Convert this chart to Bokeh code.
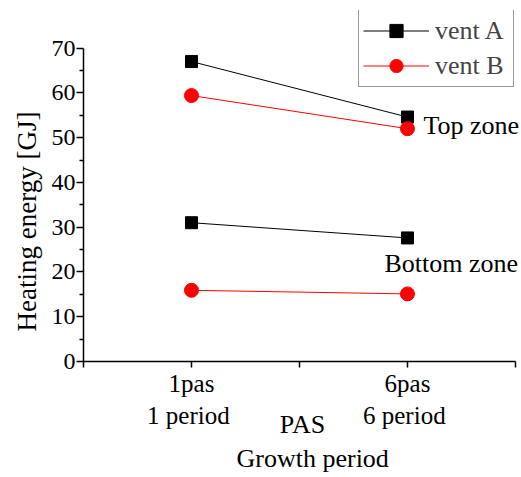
from bokeh.plotting import figure
from bokeh.models import Range1d, FixedTicker, Legend, LegendItem, Label, Title
from bokeh.embed import file_html
from bokeh.resources import INLINE

# ---- data ----
periods = [1, 2]
period_labels = ["1pas\n1  period", "6pas\n6  period"]
vent_a_top = [67.0, 54.6]
vent_b_top = [59.4, 52.0]
vent_a_bottom = [31.0, 27.6]
vent_b_bottom = [15.9, 15.1]
y_ticks = [0, 10, 20, 30, 40, 50, 60, 70]
series_names = ["vent A", "vent B"]

FONT = "Liberation Serif"

p = figure(width=521, height=477, output_backend="svg", toolbar_location=None,
           x_range=Range1d(0.5, 2.528), y_range=Range1d(0, 78.4),
           min_border_left=83, min_border_right=0, min_border_top=10,
           min_border_bottom=116)
p.outline_line_color = None
p.grid.visible = False
p.background_fill_color = "white"

# lines + markers
la1 = p.line(periods, vent_a_top, line_color="black", line_width=1)
la2 = p.line(periods, vent_a_bottom, line_color="black", line_width=1)
lb1 = p.line(periods, vent_b_top, line_color="red", line_width=1)
lb2 = p.line(periods, vent_b_bottom, line_color="red", line_width=1)
sa1 = p.scatter(periods, vent_a_top, marker="square", size=12, color="black")
sa2 = p.scatter(periods, vent_a_bottom, marker="square", size=12, color="black")
sb1 = p.scatter(periods, vent_b_top, marker="circle", size=14, color="red")
sb2 = p.scatter(periods, vent_b_bottom, marker="circle", size=14, color="red")

legend = Legend(items=[LegendItem(label=series_names[0], renderers=[la1, sa1]),
                       LegendItem(label=series_names[1], renderers=[lb1, sb1])],
                location=(275, 274), margin=0, padding=4, spacing=2,
                glyph_width=66, glyph_height=33, label_height=33, label_width=74,
                label_standoff=6, label_text_font=FONT, label_text_font_size="26px",
                border_line_color="#333333", border_line_width=1.5,
                background_fill_alpha=1.0)
p.add_layout(legend)

# x axis
xa = p.xaxis[0]
xa.ticker = FixedTicker(ticks=[0.5, 1, 1.5, 2, 2.5])
xa.bounds = (0.5, 2.5)
overrides = {0.5: "", 1.5: "", 2.5: ""}
for v, t in zip(periods, period_labels):
    overrides[v] = t
xa.major_label_overrides = overrides
xa.major_label_text_font = FONT
xa.major_label_text_font_size = "25px"
xa.major_label_text_color = "black"
xa.major_label_standoff = 2
xa.major_tick_out = 6
xa.major_tick_in = 0
xa.minor_tick_out = 0
xa.minor_tick_in = 0
xa.axis_line_width = 1.5
xa.axis_line_color = "black"
xa.major_tick_line_width = 1.5
xa.axis_label = "PAS"
xa.axis_label_text_font = FONT
xa.axis_label_text_font_size = "26px"
xa.axis_label_text_font_style = "normal"
xa.axis_label_text_color = "black"
xa.axis_label_standoff = -22

# y axis
ya = p.yaxis[0]
ya.ticker = FixedTicker(ticks=y_ticks, minor_ticks=[5, 15, 25, 35, 45, 55, 65])
ya.bounds = (0, 70)
ya.major_label_text_font = FONT
ya.major_label_text_font_size = "24px"
ya.major_label_text_color = "black"
ya.major_label_standoff = 1
ya.major_tick_out = 7
ya.major_tick_in = 0
ya.minor_tick_out = 4
ya.minor_tick_in = 0
ya.axis_line_width = 1.5
ya.major_tick_line_width = 1.5
ya.minor_tick_line_width = 1.5
ya.axis_line_color = "black"

# y axis title (as side title so it can be shifted like the reference)
p.add_layout(Title(text="Heating energy [GJ]", align="left", offset=30,
                   text_font=FONT, text_font_size="27px", text_font_style="normal",
                   text_color="black", standoff=14), "left")
# second x title line
p.add_layout(Title(text="Growth  period", align="left", offset=153,
                   text_font=FONT, text_font_size="26px", text_font_style="normal",
                   text_color="black", standoff=0), "below")
# zone annotations
p.add_layout(Label(x=2, y=52.7, x_offset=16, text="Top zone",
                   text_align="left", text_baseline="middle",
                   text_font=FONT, text_font_size="26px", text_color="black"))
p.add_layout(Label(x=2, y=21.9, x_offset=-23, text="Bottom zone",
                   text_align="left", text_baseline="middle",
                   text_font=FONT, text_font_size="26px", text_color="black"))

open("out.html", "w").write(file_html(p, INLINE))
